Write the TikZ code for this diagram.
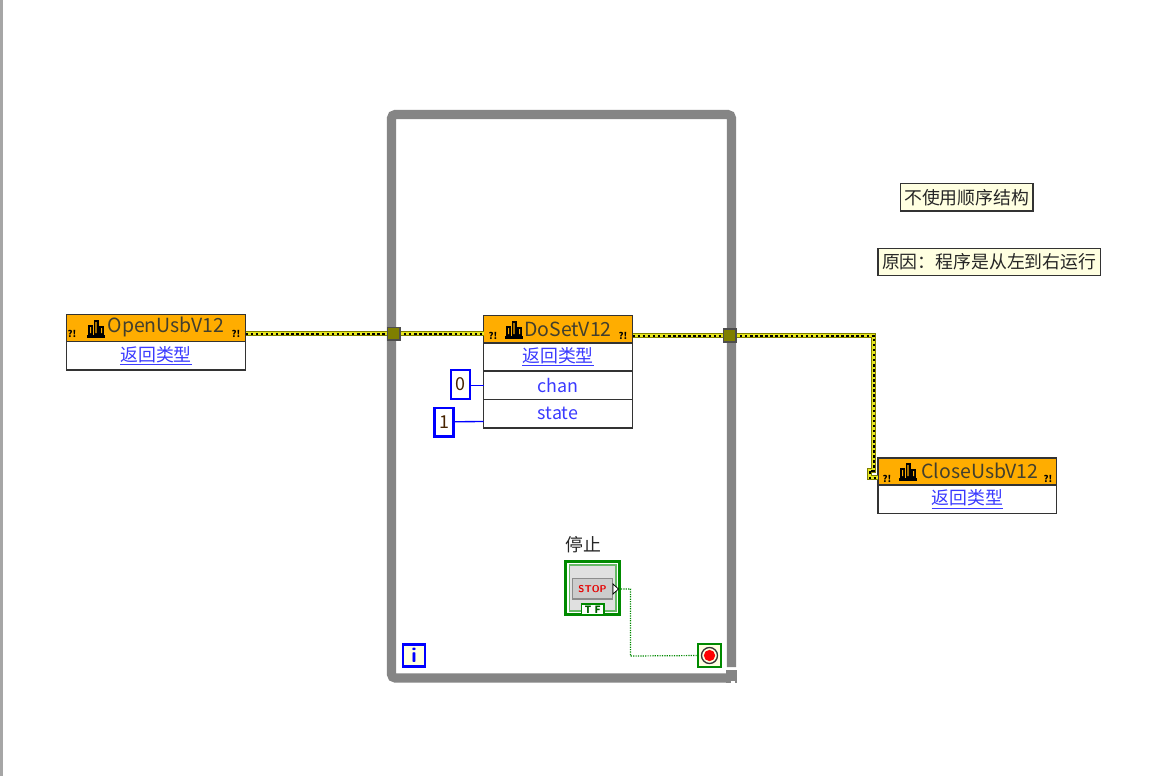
\documentclass[tikz,border=0pt]{standalone}
\usepackage{fontspec}
\setmainfont{Noto Sans CJK SC}
\definecolor{lvorange}{HTML}{FFAD00}
\definecolor{lvblue}{HTML}{0000FF}
\definecolor{lvtext}{HTML}{3A3AFF}
\definecolor{lvgray}{HTML}{858585}
\definecolor{lvcream}{HTML}{FFFFE1}
\definecolor{lvgreen}{HTML}{008A00}
\definecolor{lvolive}{HTML}{7F7F00}
\definecolor{lvyellow}{HTML}{E8E820}
\newcommand{\pxbox}[7]{%
  \pgfmathsetmacro{\pxw}{(#5-#3)*0.75}%
  \pgfmathsetmacro{\pxh}{(#6-#4)*0.75}%
  \node[#2,minimum width=\pxw pt,minimum height=\pxh pt] (#1) at ({(#3+#5)/2},{(#4+#6)/2}) {#7};}
\newcommand{\bldg}[2]{%
  \begin{scope}[shift={(#1,#2)}]
    \fill[black] (0,14.5) rectangle (18,17.5);
    \fill[black] (1,5) rectangle (6,15);
    \fill[black] (6.5,0) rectangle (11.5,15);
    \fill[black] (12,6) rectangle (17,15);
    \fill[lvorange] (3,7) rectangle (4.2,13) (8.4,2) rectangle (9.6,13) (14,8) rectangle (15.2,13);
  \end{scope}}
\tikzset{
  x=0.75pt,y=-0.75pt,
  every node/.style={inner sep=0pt,outer sep=0pt,font=\fontsize{13.4}{15}\selectfont},
  hdr/.style={draw=black!80,line width=1pt,fill=lvorange},
  cell/.style={draw=black!80,line width=1pt,fill=white,text=lvtext},
  const/.style={draw=lvblue,line width=2.2pt,fill=white,text=black!65!orange!80!black},
  note/.style={draw=black!80,line width=1.1pt,fill=lvcream,text=black!85},
  tunnel/.style={draw=black!70,line width=0.8pt,fill=lvolive},
  title/.style={text=black!70!olive,font=\fontsize{14.6}{16}\selectfont},
  warn/.style={font=\fontsize{7}{7}\bfseries\selectfont,text=black},
  frameline/.style={draw=lvgray,line width=7pt,rounded corners=3pt},
  wire/.style={draw=lvolive,line width=3.8pt,line join=miter,
    postaction={draw=lvyellow,line width=2.5pt},
    postaction={draw=black,line width=1.5pt,dash pattern=on 1.9pt off 1.9pt}},
  numwire/.style={draw=lvblue,line width=1pt},
  boolwire/.style={draw=lvgreen,line width=0.9pt,dash pattern=on 0.9pt off 0.9pt},
}
\begin{document}
\begin{tikzpicture}
\useasboundingbox (0,0) rectangle (1163,776);
\fill[white] (0,0) rectangle (1163,776);
\fill[black!35] (0,0) rectangle (3,776);
% loop frame
\draw[frameline] (731.5,667) -- (731.5,114.5) -- (391.5,114.5) -- (391.5,678) -- (735,678);
\fill[lvgray] (726,670) -- (737,670) -- (737,683) -- (726,683) -- cycle;
\fill[white] (731,681) rectangle (735,683);
% positions of free bends
\coordinate (b1) at (873.5,335.5);
\coordinate (b2) at (873.5,470.5);
\coordinate (b3) at (869.5,470.5);
\coordinate (b4) at (869.5,477.5);
\coordinate (b5) at (630.5,589);
\coordinate (b6) at (630.5,656);
% nodes
\pxbox{openH}{hdr}{66.5}{314.5}{245.5}{341.5}{}
\pxbox{openT}{cell}{66.5}{341.5}{245.5}{370}{\underline{返回类型}}
\node[title] (openN) at (166,327) {OpenUsbV12};
\pxbox{doH}{hdr}{483.5}{315.5}{632.5}{343}{}
\pxbox{doT}{cell}{483.5}{343}{632.5}{371}{\underline{返回类型}}
\pxbox{doC}{cell}{483.5}{371}{632.5}{399.5}{chan}
\pxbox{doS}{cell}{483.5}{399.5}{632.5}{428}{\raisebox{-0.7pt}{state}}
\node[title] (doN) at (568,329) {DoSetV12};
\pxbox{closeH}{hdr}{878}{458}{1056.5}{485}{}
\pxbox{closeT}{cell}{878}{485}{1056.5}{513.5}{\underline{返回类型}}
\node[title] (closeN) at (980,471) {CloseUsbV12};
\pxbox{c0}{const}{451}{370}{470}{399}{0}
\pxbox{c1}{const}{434.5}{408}{453.5}{436.5}{1}
\pxbox{n1}{note}{900.5}{183.5}{1033}{211}{不使用顺序结构}
\pxbox{n2}{note}{878}{248.5}{1100.5}{275.5}{原因：程序是从左到右运行}
% tunnels are placed first so that wires can name them
\coordinate (tLc) at (393.75,333.5);
\coordinate (tRc) at (729.75,335.5);
% wires
\draw[wire] (openH.east |- tLc) -- (tLc);
\draw[wire] (tLc) -- (doH.west |- tLc);
\draw[wire] (doH.east |- tRc) -- (tRc);
\draw[wire] (tRc) -- (b1) -- (b2) -- (b3) -- (b4) -- (closeH.west |- b4);
\draw[numwire] (c0.east |- doC) -- (doC.west);
\draw[numwire] (c1.east) ++(0,-0.5) -- (doS.west |- 0,421.5);
\pxbox{tL}{tunnel}{387.5}{327.5}{400}{340}{}
\pxbox{tR}{tunnel}{723.5}{329}{736}{342}{}
% header glyphs
\node[warn] (w1) at (72,334) {?!};
\node[warn] (w2) at (236,334) {?!};
\node[warn] (w3) at (493,336) {?!};
\node[warn] (w4) at (623,336) {?!};
\node[warn] (w5) at (887,479) {?!};
\node[warn] (w6) at (1048,479) {?!};
\bldg{87}{320}
\bldg{505}{321}
\bldg{899}{463}
% stop control
\node[text=black!85] (stopL) at (583,545) {停止};
\pxbox{stopO}{draw=lvgreen,line width=2.4pt,fill=white}{565.5}{561.5}{619.5}{614.5}{}
\pxbox{stopI}{draw=lvgreen!60!white,line width=0.8pt,fill=black!12}{569.5}{565}{616}{611}{}
\pxbox{stopB}{draw=black!45,line width=1.2pt,fill=black!20,font=\fontsize{7.4}{8}\bfseries\sffamily\selectfont,text=red!90!black}{572.5}{578.5}{612.5}{599}{STOP}
\pxbox{stopTF}{draw=lvgreen,line width=0.9pt,fill=white,text=lvgreen!70!black,font=\fontsize{7.5}{8}\bfseries\selectfont}{581.5}{604}{604}{615}{T\,\,F}
\coordinate (stopOut) at (618.5,589);
\draw[black,fill=white,line width=0.6pt] (613,584) -- (618.5,589) -- (613,594) -- cycle;
% loop condition
\pxbox{cond}{draw=lvgreen,line width=0.9pt,fill=lvcream}{698}{644}{721}{667}{}
\draw[boolwire] (stopOut) -- (b5) -- (b6) -- (cond.west);
\node[circle,draw=black!80,line width=1pt,fill=lvcream,minimum size=12pt] (condR) at (cond.center) {};
\node[circle,fill=red,minimum size=8.5pt] (condC) at (cond.center) {};
% iteration terminal
\pxbox{iter}{draw=lvblue,line width=2.2pt,fill=lvcream,text=lvblue,font=\fontsize{16}{16}\bfseries\sffamily\selectfont}{403}{644.5}{425}{666.5}{i}
\end{tikzpicture}
\end{document}
